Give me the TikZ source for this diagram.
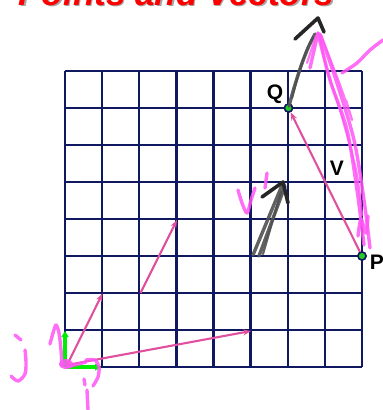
\documentclass[tikz,border=0pt]{standalone}
\usepackage{fontspec}
\setmainfont{Liberation Sans}
\usetikzlibrary{arrows.meta}
\definecolor{gridc}{HTML}{101860}
\definecolor{vecpink}{HTML}{E0509E}
\definecolor{hand}{HTML}{FF55F5}
\definecolor{ptgreen}{HTML}{22CC22}
\definecolor{axgreen}{HTML}{00EE00}
\definecolor{pencil}{HTML}{505050}
\tikzset{
  gridline/.style={draw=gridc, line width=2.3pt},
  vec/.style={draw=vecpink, line width=2.1pt, -{Stealth[length=8pt,width=6pt]}},
  axis/.style={draw=axgreen, line width=3.2pt, -{Triangle[length=6pt,width=7pt]}},
  pt/.style={circle, fill=ptgreen, draw=gridc, line width=1.5pt, minimum size=8pt, inner sep=0pt},
  lbl/.style={font=\fontsize{21}{23}\selectfont\bfseries, text=black, inner sep=0pt},
  handstroke/.style={draw=hand, line width=3.4pt, line cap=round, line join=round, opacity=0.85},
  thinhand/.style={draw=hand, line width=2.2pt, line cap=round, line join=round, opacity=0.8},
  pencilstroke/.style={draw=pencil, line width=3.4pt, line cap=round, line join=round, opacity=0.9},
  inkhead/.style={draw=black!85, line width=3.6pt, line cap=round, line join=round}
}
\begin{document}
\begin{tikzpicture}[x=1pt,y=-1pt]
\useasboundingbox (0,0) rectangle (383,410);
\clip (0,0) rectangle (383,410);
\fill[white] (0,0) rectangle (383,410);
% title (mostly cut off at top, as in the reference)
\node[anchor=base, text=black!35, font=\fontsize{35}{37}\selectfont\bfseries\itshape] (titleshadow) at (178,6.5) {Points and Vectors};
\node[anchor=base, text=red, font=\fontsize{35}{37}\selectfont\bfseries\itshape] (title) at (176.5,5) {Points and Vectors};
% grid
\foreach \k in {0,...,8} {
  \draw[gridline] ({65+37.125*\k},71) -- ({65+37.125*\k},367);
  \draw[gridline] (65,{71+37*\k}) -- (362,{71+37*\k});
}
% coordinates
\coordinate (O) at (67,365);
\coordinate (A1) at (102.5,293.5);
\coordinate (B0) at (140.5,293);
\coordinate (B1) at (177,220);
\coordinate (C1) at (251,331);
\coordinate (iend) at (101,367);
\coordinate (jend) at (65,331);
\coordinate (O2) at (65,367);
% pink vectors
\draw[vec] (O) -- (A1);
\draw[vec] (B0) -- (B1);
\draw[vec] (O) -- (C1);
% points
\node[pt] (Q) at (288.5,108) {};
\node[pt] (P) at (362,256) {};
\draw[vec] (P) -- (Q);
\node[pt] at (Q) {};
\node[pt] at (P) {};
% green unit vectors
\draw[axis] (O2) -- (iend);
\draw[axis] (O2) -- (jend);
% labels
\node[lbl] (Qlab) at (275,94) {Q};
\node[lbl] (Plab) at (377,262) {P};
\node[lbl] (Vlab) at (337,168) {V};
% pencil arrow from Q upward
\draw[pencilstroke] plot[smooth] coordinates {(289,106) (294,88) (301,66) (308,48) (315,34)};
\draw[pencilstroke, line width=2.2pt] plot[smooth] coordinates {(292,98) (298,76) (306,52) (313,37)};
% pink bundle from apex toward P
\draw[handstroke] plot[smooth] coordinates {(318,33) (330,80) (347,130) (357,190) (364,245)};
\draw[handstroke] plot[smooth] coordinates {(320,34) (336,80) (354,140) (364,200) (370,248)};
\draw[thinhand] plot[smooth] coordinates {(321,35) (340,85) (352,120) (346,100)};
\draw[thinhand] plot[smooth] coordinates {(319,34) (327,70) (340,110) (356,170) (362,215)};
\draw[handstroke] (318,33) -- (310,68);
\draw[thinhand] (316,36) -- (307,63);
\draw[handstroke] plot[smooth] coordinates {(358,236) (361,219) (366,233) (368,216)};
\draw[handstroke] plot[smooth] coordinates {(342,73) (357,63) (370,50) (383,40)};
\draw[inkhead] (295,39) -- (318,18) -- (324,32);
% pencil arrow in the middle
\draw[pencilstroke] (253,255) -- (283,183);
\draw[pencilstroke] (259,256) -- (285,186);
\draw[pencilstroke, line width=2.2pt] (263,254) -- (281,192);
\draw[inkhead] (262,197) -- (283,182) -- (288,203);
% pink V and tick
\draw[handstroke] plot[smooth] coordinates {(238,190) (242,203) (247,213) (251,200) (255,188)};
\draw[handstroke] (267,173) -- (265,188);
% pink j
\draw[handstroke] (15,335) -- (21,340);
\draw[handstroke] plot[smooth] coordinates {(25,350) (26,362) (25,374) (18,381) (11,376)};
% pink caret over j vector and blob at origin
\draw[handstroke] plot[smooth] coordinates {(50,344) (53,333) (56,325) (59,333) (61,350) (62,366)};
\fill[hand, opacity=0.85] (66,364) ellipse [x radius=7pt, y radius=5pt];
\draw[handstroke] (67,367) -- (86,362);
\draw[handstroke] plot[smooth] coordinates {(86,360) (95,360) (99,367) (98,377) (93,386)};
% pink i
\draw[handstroke] (84,379) -- (85,385);
\draw[handstroke] (87,390) -- (88,410);
\end{tikzpicture}
\end{document}
